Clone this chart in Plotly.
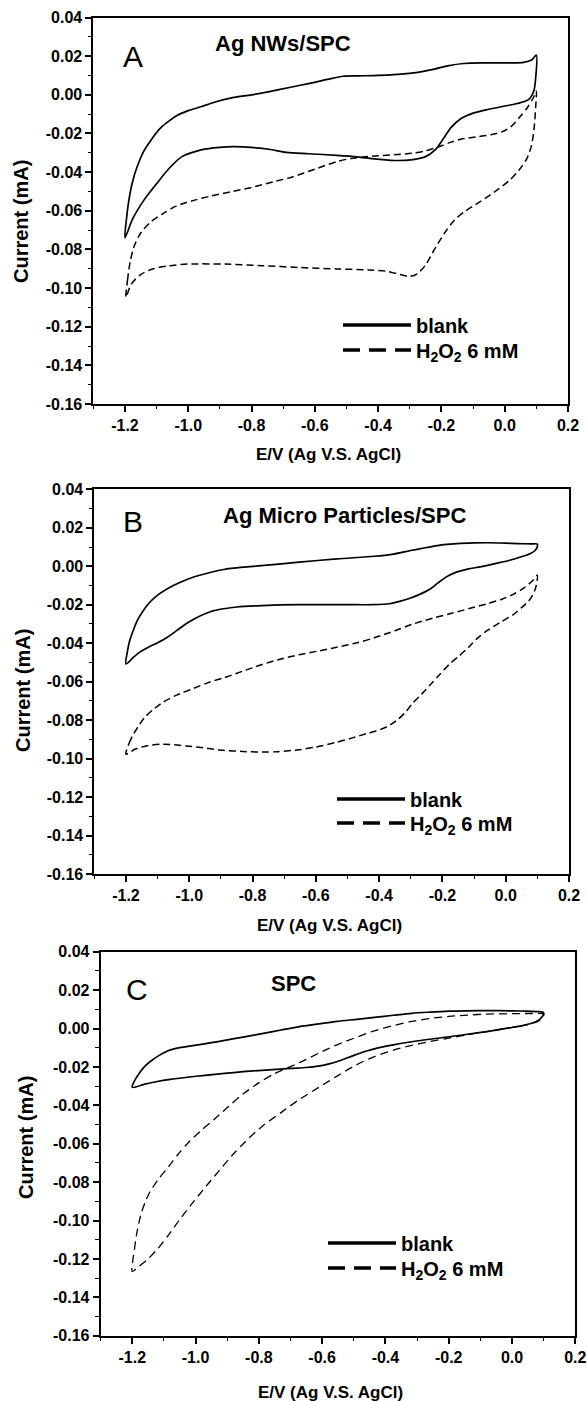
import plotly.graph_objects as go

W, H = 587, 1401
FONT = "Liberation Sans, Arial, Helvetica, sans-serif"

# ---------------- data ----------------
# Panel A : Ag NWs/SPC
a_blank_v = [-1.200, -1.195, -1.188, -1.176, -1.161, -1.140, -1.120, -1.100, -1.084, -1.060, -1.037, -1.000,
             -0.960, -0.920, -0.860, -0.800, -0.740, -0.680, -0.620, -0.560, -0.510, -0.460, -0.400, -0.340,
             -0.280, -0.230, -0.180, -0.130, -0.060, 0.020, 0.060, 0.085, 0.100,
             0.098, 0.092, 0.075, 0.040, 0.000, -0.050, -0.100, -0.140, -0.170, -0.195, -0.220, -0.250,
             -0.290, -0.340, -0.400, -0.460, -0.530, -0.620, -0.690, -0.740, -0.800, -0.860, -0.920, -0.970,
             -1.020, -1.060, -1.100, -1.140, -1.175, -1.200]
a_blank_i = [-0.0740, -0.0640, -0.0550, -0.0450, -0.0370, -0.0290, -0.0240, -0.0195, -0.0166, -0.0135, -0.0108,
             -0.0082, -0.0062, -0.0040, -0.0015, 0.0000, 0.0018, 0.0038, 0.0058, 0.0080, 0.0096, 0.0098, 0.0100,
             0.0106, 0.0115, 0.0130, 0.0150, 0.0162, 0.0165, 0.0165, 0.0168, 0.0180, 0.0205,
             0.0090, 0.0020, -0.0025, -0.0045, -0.0058, -0.0075, -0.0095, -0.0125, -0.0170, -0.0230, -0.0285,
             -0.0320, -0.0335, -0.0340, -0.0333, -0.0322, -0.0313, -0.0305, -0.0298, -0.0283, -0.0272, -0.0268,
             -0.0275, -0.0290, -0.0320, -0.0380, -0.0460, -0.0545, -0.0640, -0.0740]
a_h2o2_v = [-1.197, -1.192, -1.183, -1.170, -1.150, -1.120, -1.080, -1.037, -0.980, -0.931, -0.860, -0.789,
            -0.730, -0.671, -0.600, -0.529, -0.480, -0.420, -0.350, -0.293, -0.250, -0.210, -0.170, -0.139,
            -0.090, -0.040, -0.009, 0.020, 0.045, 0.073, 0.092, 0.100,
            0.098, 0.093, 0.085, 0.070, 0.045, 0.015, -0.030, -0.080, -0.127, -0.160, -0.190, -0.222, -0.250,
            -0.275, -0.300, -0.330, -0.370, -0.430, -0.529, -0.647, -0.765, -0.883, -1.001, -1.060, -1.110,
            -1.150, -1.180, -1.197]
a_h2o2_i = [-0.1048, -0.0960, -0.0860, -0.0780, -0.0715, -0.0660, -0.0615, -0.0575, -0.0545, -0.0525, -0.0500,
            -0.0475, -0.0450, -0.0425, -0.0385, -0.0345, -0.0328, -0.0318, -0.0310, -0.0303, -0.0290, -0.0270,
            -0.0245, -0.0230, -0.0218, -0.0205, -0.0192, -0.0165, -0.0120, -0.0063, -0.0010, 0.0020,
            -0.0060, -0.0170, -0.0260, -0.0330, -0.0390, -0.0443, -0.0500, -0.0555, -0.0605, -0.0650, -0.0715,
            -0.0800, -0.0880, -0.0925, -0.0940, -0.0930, -0.0914, -0.0906, -0.0901, -0.0894, -0.0884, -0.0876,
            -0.0876, -0.0885, -0.0900, -0.0930, -0.0980, -0.1048]

# Panel B : Ag Micro Particles/SPC
b_blank_v = [-1.200, -1.195, -1.188, -1.176, -1.164, -1.147, -1.129, -1.100, -1.069, -1.030, -0.986, -0.940,
             -0.891, -0.830, -0.772, -0.653, -0.534, -0.415, -0.360, -0.320, -0.280, -0.237, -0.195, -0.153,
             -0.100, -0.058, 0.000, 0.037, 0.080, 0.100,
             0.099, 0.093, 0.080, 0.049, 0.010, -0.030, -0.081, -0.120, -0.160, -0.190, -0.215, -0.240, -0.270,
             -0.300, -0.335, -0.367, -0.420, -0.474, -0.560, -0.653, -0.772, -0.850, -0.891, -0.925, -0.950,
             -0.980, -1.010, -1.040, -1.069, -1.100, -1.129, -1.155, -1.176, -1.200]
b_blank_i = [-0.0508, -0.0440, -0.0386, -0.0330, -0.0282, -0.0235, -0.0195, -0.0150, -0.0117, -0.0085, -0.0056,
             -0.0035, -0.0017, -0.0005, 0.0003, 0.0021, 0.0038, 0.0052, 0.0062, 0.0075, 0.0088, 0.0101, 0.0112,
             0.0118, 0.0121, 0.0122, 0.0120, 0.0118, 0.0116, 0.0115,
             0.0098, 0.0082, 0.0068, 0.0049, 0.0030, 0.0015, -0.0003, -0.0015, -0.0033, -0.0058, -0.0088,
             -0.0120, -0.0145, -0.0165, -0.0183, -0.0195, -0.0200, -0.0200, -0.0200, -0.0200, -0.0205, -0.0212,
             -0.0221, -0.0232, -0.0247, -0.0270, -0.0299, -0.0335, -0.0369, -0.0398, -0.0421, -0.0445, -0.0473,
             -0.0508]
b_h2o2_v = [-1.200, -1.190, -1.176, -1.160, -1.141, -1.110, -1.081, -1.040, -0.986, -0.940, -0.891, -0.830,
            -0.772, -0.710, -0.653, -0.590, -0.534, -0.470, -0.415, -0.350, -0.296, -0.230, -0.177, -0.115,
            -0.058, -0.010, 0.025, 0.060, 0.085, 0.100,
            0.095, 0.085, 0.073, 0.050, 0.025, -0.015, -0.058, -0.090, -0.117, -0.150, -0.177, -0.210, -0.236,
            -0.266, -0.296, -0.320, -0.343, -0.365, -0.395, -0.439, -0.490, -0.534, -0.600, -0.653, -0.720,
            -0.772, -0.830, -0.891, -0.950, -1.010, -1.081, -1.129, -1.170, -1.200]
b_h2o2_i = [-0.0977, -0.0920, -0.0873, -0.0830, -0.0786, -0.0740, -0.0705, -0.0670, -0.0635, -0.0605, -0.0580,
            -0.0545, -0.0512, -0.0482, -0.0460, -0.0440, -0.0421, -0.0398, -0.0372, -0.0335, -0.0302, -0.0270,
            -0.0247, -0.0220, -0.0195, -0.0170, -0.0145, -0.0110, -0.0075, -0.0047,
            -0.0110, -0.0150, -0.0180, -0.0215, -0.0250, -0.0290, -0.0334, -0.0375, -0.0421, -0.0470, -0.0508,
            -0.0565, -0.0612, -0.0665, -0.0716, -0.0765, -0.0800, -0.0825, -0.0848, -0.0870, -0.0895, -0.0915,
            -0.0940, -0.0954, -0.0964, -0.0966, -0.0963, -0.0957, -0.0945, -0.0934, -0.0925, -0.0932, -0.0950,
            -0.0977]

# Panel C : SPC
c_blank_v = [-1.200, -1.192, -1.180, -1.162, -1.144, -1.115, -1.085, -1.050, -1.003, -0.950, -0.908, -0.850,
             -0.790, -0.730, -0.672, -0.610, -0.553, -0.490, -0.435, -0.375, -0.317, -0.260, -0.199, -0.140,
             -0.080, 0.000, 0.050, 0.085, 0.100,
             0.098, 0.085, 0.062, 0.030, -0.010, -0.080, -0.140, -0.199, -0.260, -0.317, -0.375, -0.420, -0.465,
             -0.506, -0.540, -0.575, -0.612, -0.650, -0.700, -0.790, -0.850, -0.908, -0.970, -1.026, -1.080,
             -1.121, -1.160, -1.200]
c_blank_i = [-0.0306, -0.0270, -0.0238, -0.0200, -0.0173, -0.0140, -0.0115, -0.0100, -0.0088, -0.0074, -0.0062,
             -0.0045, -0.0027, -0.0008, 0.0010, 0.0024, 0.0037, 0.0048, 0.0058, 0.0069, 0.0079, 0.0085, 0.0090,
             0.0092, 0.0093, 0.0092, 0.0090, 0.0088, 0.0082,
             0.0068, 0.0045, 0.0027, 0.0014, 0.0003, -0.0016, -0.0030, -0.0043, -0.0056, -0.0069, -0.0085,
             -0.0100, -0.0120, -0.0144, -0.0165, -0.0183, -0.0196, -0.0203, -0.0208, -0.0218, -0.0225, -0.0234,
             -0.0244, -0.0254, -0.0265, -0.0276, -0.0290, -0.0306]
c_h2o2_v = [-1.200, -1.193, -1.185, -1.172, -1.158, -1.144, -1.115, -1.085, -1.055, -1.026, -0.985, -0.943,
            -0.895, -0.849, -0.800, -0.754, -0.710, -0.672, -0.610, -0.553, -0.490, -0.435, -0.375, -0.317,
            -0.260, -0.199, -0.140, -0.080, 0.000, 0.060, 0.100,
            0.097, 0.080, 0.038, -0.020, -0.080, -0.140, -0.199, -0.260, -0.317, -0.375, -0.435, -0.495,
            -0.553, -0.612, -0.672, -0.730, -0.790, -0.840, -0.884, -0.925, -0.967, -1.010, -1.050, -1.085,
            -1.121, -1.150, -1.180, -1.200]
c_h2o2_i = [-0.1265, -0.1150, -0.1060, -0.0965, -0.0900, -0.0850, -0.0780, -0.0719, -0.0655, -0.0600, -0.0535,
            -0.0476, -0.0405, -0.0340, -0.0283, -0.0238, -0.0205, -0.0178, -0.0128, -0.0085, -0.0045, -0.0012,
            0.0015, 0.0037, 0.0052, 0.0063, 0.0070, 0.0075, 0.0077, 0.0078, 0.0075,
            0.0055, 0.0035, 0.0016, 0.0000, -0.0016, -0.0032, -0.0050, -0.0068, -0.0088, -0.0113, -0.0146,
            -0.0192, -0.0248, -0.0308, -0.0370, -0.0438, -0.0510, -0.0585, -0.0660, -0.0740, -0.0822, -0.0910,
            -0.0995, -0.1075, -0.1150, -0.1200, -0.1240, -0.1265]

panel_letters = ["A", "B", "C"]
panel_titles = ["Ag NWs/SPC", "Ag Micro Particles/SPC", "SPC"]
series_names = ["blank", "H<sub>2</sub>O<sub>2</sub> 6 mM"]
x_title = "E/V (Ag V.S. AgCl)"
y_title = "Current (mA)"

x_tickvals = [-1.2, -1.0, -0.8, -0.6, -0.4, -0.2, 0.0, 0.2]
x_ticktext = ["-1.2", "-1.0", "-0.8", "-0.6", "-0.4", "-0.2", "0.0", "0.2"]
y_tickvals = [0.04, 0.02, 0.00, -0.02, -0.04, -0.06, -0.08, -0.10, -0.12, -0.14, -0.16]
y_ticktext = ["0.04", "0.02", "0.00", "-0.02", "-0.04", "-0.06", "-0.08", "-0.10", "-0.12", "-0.14", "-0.16"]

# ---------------- layout geometry (pixels) ----------------
panels = [
    dict(x0=93.3, x1=568.0, y0=17.5, y1=404.0, letter=(133, 56), title=(283, 44),
         xt=(328, 455), yt=(21, 222), leg=(343, 325, 350), dash_data="7px,4px", dw=1.5,
         blank=(a_blank_v, a_blank_i), h2o2=(a_h2o2_v, a_h2o2_i)),
    dict(x0=94.3, x1=569.0, y0=489.3, y1=874.0, letter=(133, 522), title=(344, 515),
         xt=(329, 925), yt=(23, 691), leg=(337, 799, 823), dash_data="7px,4px", dw=1.5,
         blank=(b_blank_v, b_blank_i), h2o2=(b_h2o2_v, b_h2o2_i)),
    dict(x0=100.6, x1=575.3, y0=951.7, y1=1335.7, letter=(137, 989), title=(294, 983),
         xt=(330, 1392), yt=(26, 1138), leg=(328, 1243, 1268), dash_data="8px,5px", dw=1.3,
         blank=(c_blank_v, c_blank_i), h2o2=(c_h2o2_v, c_h2o2_i)),
]


def fx(px):
    return px / W


def fy(py):
    return 1 - py / H


fig = go.Figure()
annotations = []
layout = {}
leg_names = ["legend", "legend2", "legend3", "legend4", "legend5", "legend6"]

for k, p in enumerate(panels):
    n = "" if k == 0 else str(k + 1)
    xa, ya = "x" + n, "y" + n
    bv, bi = p["blank"]
    hv, hi = p["h2o2"]
    fig.add_trace(go.Scatter(x=bv, y=bi, xaxis=xa, yaxis=ya, mode="lines", showlegend=False,
                             line=dict(color="black", width=1.7, shape="spline", smoothing=0.8)))
    fig.add_trace(go.Scatter(x=hv, y=hi, xaxis=xa, yaxis=ya, mode="lines", showlegend=False,
                             line=dict(color="black", width=p["dw"], dash=p["dash_data"], shape="spline",
                                       smoothing=0.8)))
    # legend entries (one legend box per row so the rows sit where the reference has them)
    for j, (name, dash) in enumerate(zip(series_names, ["solid", "17px,9px"])):
        lg = leg_names[2 * k + j]
        fig.add_trace(go.Scatter(x=[None], y=[None], xaxis=xa, yaxis=ya, mode="lines", name=name,
                                 legend=lg, line=dict(color="black", width=3.3, dash=dash)))
        layout[lg] = dict(x=fx(p["leg"][0] - 5), y=fy(p["leg"][1 + j]), xanchor="left", yanchor="middle",
                          bgcolor="rgba(0,0,0,0)", borderwidth=0, itemwidth=68,
                          font=dict(family=FONT, size=20, color="black", weight="bold"))

    axis_common = dict(showline=True, linecolor="black", linewidth=1.8, mirror=True, ticks="outside",
                       ticklen=6, tickwidth=1.5, tickcolor="black", showgrid=False, zeroline=False,
                       tickfont=dict(family=FONT, size=16, color="black", weight="bold"),
                       tickmode="array", fixedrange=True)
    layout["xaxis" + n] = dict(axis_common, domain=[fx(p["x0"]), fx(p["x1"])], range=[-1.3, 0.2],
                               tickvals=x_tickvals, ticktext=x_ticktext, anchor=ya,
                               minor=dict(ticks="outside", ticklen=3.5, tickwidth=1.3, tickcolor="black",
                                          dtick=0.1, tick0=0, showgrid=False))
    layout["yaxis" + n] = dict(axis_common, domain=[fy(p["y1"]), fy(p["y0"])], range=[-0.16, 0.04],
                               tickvals=y_tickvals, ticktext=y_ticktext, anchor=xa,
                               minor=dict(ticks="outside", ticklen=3.5, tickwidth=1.3, tickcolor="black",
                                          dtick=0.01, tick0=0, showgrid=False))

    annotations += [
        dict(text=panel_letters[k], x=fx(p["letter"][0]), y=fy(p["letter"][1]), xref="paper", yref="paper",
             showarrow=False, xanchor="center", yanchor="middle",
             font=dict(family=FONT, size=30, color="black")),
        dict(text=panel_titles[k], x=fx(p["title"][0]), y=fy(p["title"][1]), xref="paper", yref="paper",
             showarrow=False, xanchor="center", yanchor="middle",
             font=dict(family=FONT, size=22, color="black", weight="bold")),
        dict(text=x_title, x=fx(p["xt"][0]), y=fy(p["xt"][1]), xref="paper", yref="paper",
             showarrow=False, xanchor="center", yanchor="middle",
             font=dict(family=FONT, size=17, color="black", weight="bold")),
        dict(text=y_title, x=fx(p["yt"][0]), y=fy(p["yt"][1]), xref="paper", yref="paper",
             showarrow=False, xanchor="center", yanchor="middle", textangle=-90,
             font=dict(family=FONT, size=20, color="black", weight="bold")),
    ]

fig.update_layout(template="none", width=W, height=H, autosize=False,
                  margin=dict(l=0, r=0, t=0, b=0), paper_bgcolor="white", plot_bgcolor="white",
                  annotations=annotations, **layout)

fig.write_html("out.html", config={"displayModeBar": False})
